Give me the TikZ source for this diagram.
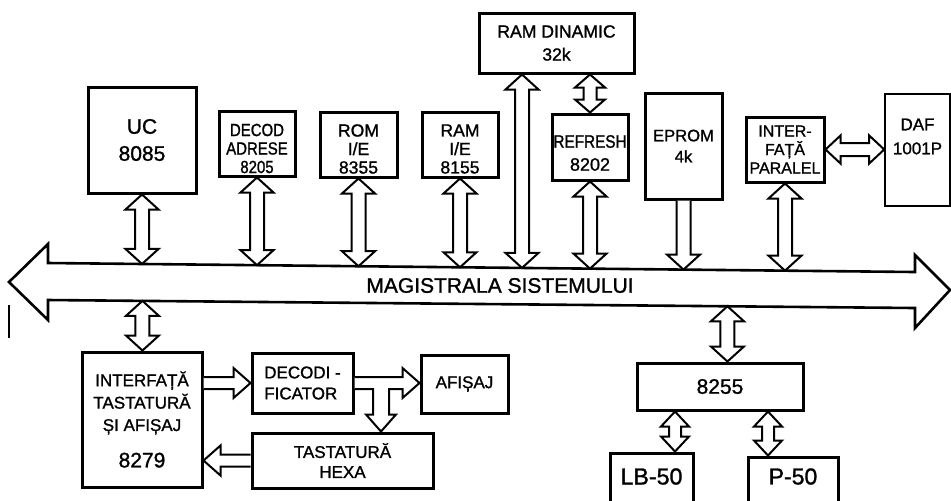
\documentclass[tikz,border=0pt]{standalone}
\usepackage{fontspec}
\setmainfont{Liberation Sans}[FakeBold=1.2]
\newfontfamily\narrowsans{Liberation Sans}[FakeStretch=0.85,FakeBold=1.2]
\usetikzlibrary{calc}
\newcommand\fatS{3.5pt}
\newcommand\fatH{8.25pt}
\newcommand\fatL{7.5pt}
% vertical double fat arrow, #1 upper end, #2 lower end
\newcommand\vboth[2]{\draw[fat] let \p1=(#1),\p2=(#2) in
  (\x1,\y1) -- (\x1+\fatH,\y1-\fatL) -- (\x1+\fatS,\y1-\fatL) -- (\x1+\fatS,\y2+\fatL)
  -- (\x1+\fatH,\y2+\fatL) -- (\x1,\y2) -- (\x1-\fatH,\y2+\fatL) -- (\x1-\fatS,\y2+\fatL)
  -- (\x1-\fatS,\y1-\fatL) -- (\x1-\fatH,\y1-\fatL) -- cycle;}
% vertical single fat arrow pointing down
\newcommand\vdown[2]{\draw[fat] let \p1=(#1),\p2=(#2) in
  (\x1-\fatS,\y1) -- (\x1-\fatS,\y2+\fatL) -- (\x1-\fatH,\y2+\fatL) -- (\x1,\y2)
  -- (\x1+\fatH,\y2+\fatL) -- (\x1+\fatS,\y2+\fatL) -- (\x1+\fatS,\y1);}
% horizontal double fat arrow, #1 left end, #2 right end
\newcommand\hboth[2]{\draw[fat] let \p1=(#1),\p2=(#2) in
  (\x1,\y1) -- (\x1+\fatL,\y1+\fatH) -- (\x1+\fatL,\y1+\fatS) -- (\x2-\fatL,\y1+\fatS)
  -- (\x2-\fatL,\y1+\fatH) -- (\x2,\y1) -- (\x2-\fatL,\y1-\fatH) -- (\x2-\fatL,\y1-\fatS)
  -- (\x1+\fatL,\y1-\fatS) -- (\x1+\fatL,\y1-\fatH) -- cycle;}
% horizontal single fat arrow pointing right, #1 left end, #2 right end (tip)
\newcommand\hright[2]{\draw[fat] let \p1=(#1),\p2=(#2) in
  (\x1,\y1+\fatS) -- (\x2-\fatL,\y1+\fatS) -- (\x2-\fatL,\y1+\fatH) -- (\x2,\y1)
  -- (\x2-\fatL,\y1-\fatH) -- (\x2-\fatL,\y1-\fatS) -- (\x1,\y1-\fatS);}
% horizontal single fat arrow pointing left, #1 right end, #2 left end (tip)
\newcommand\hleft[2]{\draw[fat] let \p1=(#1),\p2=(#2) in
  (\x1,\y1+\fatS) -- (\x2+\fatL,\y1+\fatS) -- (\x2+\fatL,\y1+\fatH) -- (\x2,\y1)
  -- (\x2+\fatL,\y1-\fatH) -- (\x2+\fatL,\y1-\fatS) -- (\x1,\y1-\fatS);}
\begin{document}
\begin{tikzpicture}[x=0.5pt,y=-0.5pt,
  box/.style={draw, line width=1.5pt, rectangle, inner sep=0pt, align=center},
  thinbox/.style={draw, line width=0.8pt, rectangle, inner sep=0pt, align=center},
  fat/.style={draw, line width=1pt, fill=white, line join=miter},
  busline/.style={draw, line width=1.3pt, line join=miter},
  lbl/.style={align=center, inner sep=0pt}]
\useasboundingbox (0,0) rectangle (951,500);
\clip (0,0) rectangle (951,500);

% ---- system bus ----
\coordinate (btl) at (48,263);
\coordinate (btr) at (915,272);
\coordinate (bbl) at (48,300);
\coordinate (bbr) at (915,308);
\draw[busline] (9,282) -- (48,244) -- (btl) -- (btr) -- (915,255) -- (950,290)
  -- (915,328) -- (bbr) -- (bbl) -- (48,320) -- cycle;
\node[font=\fontsize{10.5}{12}\selectfont] (bus) at (500,285.5) {MAGISTRALA SISTEMULUI};
\draw[line width=1pt] (9,305) -- (9,338);

% ---- upper blocks ----
\node[box, minimum width=54pt, minimum height=53pt, font=\fontsize{10.5}{13.5}\selectfont]
  (uc) at (142,140) {UC\\8085};
\node[box, minimum width=38pt, minimum height=32.5pt,
  label={[lbl, name=decT, yshift=-2.5pt, font=\narrowsans\fontsize{8.8}{9.25}\selectfont]center:DECOD\\ADRESE\\8205}]
  (dec) at (257,143.5) {};
\node[box, minimum width=38.5pt, minimum height=32.5pt,
  label={[lbl, name=romT, yshift=-2.25pt, font=\fontsize{8.8}{9.25}\selectfont]center:ROM\\I/E\\8355}]
  (rom) at (358.5,144.5) {};
\node[box, minimum width=38pt, minimum height=32.5pt,
  label={[lbl, name=ramiT, yshift=-2.25pt, font=\fontsize{8.8}{9.25}\selectfont]center:RAM\\I/E\\8155}]
  (rami) at (460,144.5) {};
\node[box, minimum width=77.5pt, minimum height=30pt, font=\fontsize{8.8}{11.5}\selectfont]
  (ramd) at (556.5,43) {RAM DINAMIC\\32k};
\node[box, minimum width=38pt, minimum height=33pt,
  label={[lbl, name=refrT, yshift=-3pt, font=\fontsize{9}{11.5}\selectfont]center:{\narrowsans REFRESH}\\8202}]
  (refr) at (590,147) {};
\node[box, minimum width=38.5pt, minimum height=53pt, font=\fontsize{8.3}{10.5}\selectfont]
  (eprom) at (683.5,146) {EPROM\\4k};
\node[box, minimum width=39pt, minimum height=32.5pt, font=\fontsize{8}{9.25}\selectfont]
  (intp) at (785,149.5) {INTER-\\FAȚĂ\\PARALEL};
\node[thinbox, minimum width=32.5pt, minimum height=56pt,
  label={[lbl, name=dafT, yshift=6.75pt, font=\fontsize{8.5}{12}\selectfont]center:DAF\\1001P}]
  (daf) at (917.5,150) {};

% ---- lower blocks ----
\node[box, minimum width=60pt, minimum height=67.5pt, font=\fontsize{8.5}{11.2}\selectfont]
  (intf) at (142,419.5) {INTERFAȚĂ\\TASTATURĂ\\ȘI AFIȘAJ\\[7pt]{\fontsize{10.5}{12}\selectfont 8279}};
\node[box, minimum width=50.5pt, minimum height=30pt, align=left, font=\fontsize{8.5}{10.5}\selectfont]
  (decf) at (302.5,383) {DECODI -\\FICATOR};
\node[box, minimum width=43.5pt, minimum height=29pt, font=\fontsize{8.5}{10}\selectfont]
  (afi) at (464.5,384) {AFIȘAJ};
\node[box, minimum width=90.5pt, minimum height=27.5pt, font=\fontsize{8.5}{10}\selectfont]
  (tast) at (342.5,460.5) {TASTATURĂ\\HEXA};
\node[box, minimum width=83pt, minimum height=23.5pt, font=\fontsize{10.5}{12}\selectfont]
  (p8255) at (720,386.5) {8255};
\node[box, minimum width=41.5pt, minimum height=26.5pt,
  label={[lbl, name=lbT, yshift=1.5pt, font=\fontsize{11.6}{13}\selectfont]center:LB-50}]
  (lb) at (651.5,479.5) {};
\node[box, minimum width=45pt, minimum height=24.5pt,
  label={[lbl, name=p50T, yshift=2.5pt, font=\fontsize{11.5}{13}\selectfont]center:P-50}]
  (p50) at (793,481.5) {};

% ---- connectors to the bus ----
\vboth{uc.south}{$(btl)!(uc.south)!(btr)$}
\vboth{dec.south}{$(btl)!(dec.south)!(btr)$}
\vboth{rom.south}{$(btl)!(rom.south)!(btr)$}
\vboth{rami.south}{$(btl)!(rami.south)!(btr)$}
\coordinate (ramdL) at (522,0 |- ramd.south);
\vboth{ramdL}{$(btl)!(ramdL)!(btr)$}
{\renewcommand\fatS{3.25pt}\renewcommand\fatH{7.5pt}\renewcommand\fatL{6.5pt}
 \vboth{refr.north |- ramd.south}{refr.north}}
\vboth{refr.south}{$(btl)!(refr.south)!(btr)$}
\vdown{eprom.south}{$(btl)!(eprom.south)!(btr)$}
\vboth{intp.south}{$(btl)!(intp.south)!(btr)$}
{\renewcommand\fatS{3.25pt}\renewcommand\fatH{7pt}\renewcommand\fatL{7.5pt}
 \hboth{intp.east}{daf.west}}
\vboth{$(bbl)!(intf.north)!(bbr)$}{intf.north}
\coordinate (a8255) at (727,0 |- p8255.north);
\vboth{$(bbl)!(a8255)!(bbr)$}{a8255}

% ---- 8255 peripherals ----
{\renewcommand\fatS{3pt}\renewcommand\fatH{7pt}\renewcommand\fatL{7.5pt}
 \coordinate (lbA) at (675,0 |- p8255.south);
 \vboth{lbA}{lbA |- lb.north}
 \coordinate (pA) at (768,0 |- p8255.south);
 \vboth{pA}{pA |- p50.north}}

% ---- keyboard / display ----
{\renewcommand\fatS{3pt}\renewcommand\fatH{7.5pt}\renewcommand\fatL{8.5pt}
 \hright{intf.east |- decf.west}{decf.west}
 \hleft{tast.west}{intf.east |- tast.west}
 \draw[fat] let \p1=(decf.east), \p2=(afi.west), \p3=(381,0 |- tast.north) in
  (\x1,\y1+\fatS) -- (\x2-\fatL,\y1+\fatS) -- (\x2-\fatL,\y1+\fatH) -- (\x2,\y1)
  -- (\x2-\fatL,\y1-\fatH) -- (\x2-\fatL,\y1-\fatS) -- (\x3+4pt,\y1-\fatS)
  -- (\x3+4pt,\y3+\fatL) -- (\x3+\fatH,\y3+\fatL) -- (\x3,\y3) -- (\x3-\fatH,\y3+\fatL)
  -- (\x3-4pt,\y3+\fatL) -- (\x3-4pt,\y1-\fatS) -- (\x1,\y1-\fatS);}
\end{tikzpicture}
\end{document}
